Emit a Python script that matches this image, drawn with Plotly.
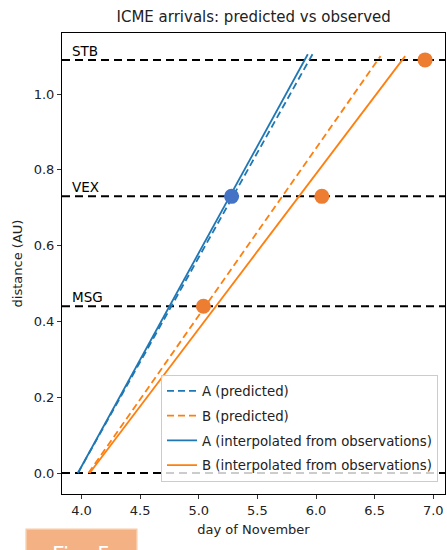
import plotly.graph_objects as go

# ---- data ----
planet_names = ["MSG", "VEX", "STB"]
planet_dist = [0.44, 0.73, 1.09]
baseline = [0.0]

a_pred_day = [3.97, 5.97]
a_pred_dist = [0.0, 1.105]
b_pred_day = [4.06, 6.55]
b_pred_dist = [0.0, 1.10]
a_obs_line_day = [3.97, 5.93]
a_obs_line_dist = [0.0, 1.105]
b_obs_line_day = [4.07, 6.76]
b_obs_line_dist = [0.0, 1.10]

a_obs_day = [5.28]
a_obs_dist = [0.73]
b_obs_day = [5.04, 6.05, 6.93]
b_obs_dist = [0.44, 0.73, 1.09]

x_ticks = [4.0, 4.5, 5.0, 5.5, 6.0, 6.5, 7.0]
y_ticks = [0.0, 0.2, 0.4, 0.6, 0.8, 1.0]

BLUE = "#1f77b4"
ORANGE = "#ff7f0e"
FONT = "DejaVu Sans"

fig = go.Figure()

traces = [
    ("A (predicted)", a_pred_day, a_pred_dist, BLUE, "7px,4px"),
    ("B (predicted)", b_pred_day, b_pred_dist, ORANGE, "7px,4px"),
    ("A (interpolated from observations)", a_obs_line_day, a_obs_line_dist, BLUE, "solid"),
    ("B (interpolated from observations)", b_obs_line_day, b_obs_line_dist, ORANGE, "solid"),
]
for i, (name, xs, ys, col, dash) in enumerate(traces):
    fig.add_trace(go.Scatter(x=xs, y=ys, mode="lines", name=name,
                             legendgroup=f"g{i}",
                             line=dict(color=col, width=1.8, dash=dash)))

fig.add_trace(go.Scatter(x=a_obs_day, y=a_obs_dist, mode="markers", showlegend=False,
                         marker=dict(color="#4472C4", size=15, line=dict(width=0))))
fig.add_trace(go.Scatter(x=b_obs_day, y=b_obs_dist, mode="markers", showlegend=False,
                         marker=dict(color="#ED7D31", size=15, line=dict(width=0))))

# horizontal reference lines
for d in planet_dist + baseline:
    fig.add_shape(type="line", xref="paper", x0=0, x1=1, yref="y", y0=d, y1=d,
                  line=dict(color="black", width=2, dash="8px,5px"), layer="below")
for name, d in zip(planet_names, planet_dist):
    fig.add_annotation(x=3.905, y=d, xref="x", yref="y", text=name, showarrow=False,
                       xanchor="left", yanchor="bottom", yshift=-1,
                       font=dict(family=FONT, size=13.5, color="black"))

# "Fig. 5" badge at bottom-left
L, R, T, B = 62.3, 445, 33.3, 494.3
pw, ph = R - L, B - T
def px(x):
    return (x - L) / pw
def py(y):
    return (B - y) / ph
fig.add_shape(type="rect", xref="paper", yref="paper",
              x0=px(26.5), x1=px(137), y0=py(529.5), y1=py(565),
              fillcolor="#F4B183", line=dict(color="#F8C9A5", width=1.5))
fig.add_annotation(xref="paper", yref="paper", x=px(82), y=py(540), text="Fig. 5",
                   showarrow=False, xanchor="center", yanchor="top",
                   font=dict(family=FONT, size=22, color="white"))

fig.update_layout(
    width=447, height=550,
    margin=dict(l=L, r=447 - R, t=T, b=550 - B, pad=0),
    paper_bgcolor="white", plot_bgcolor="white",
    font=dict(family=FONT, size=13, color="#222"),
    title=dict(text="ICME arrivals: predicted vs observed", x=(L + R) / 2 / 447,
               xanchor="center", y=1 - 17 / 550, yanchor="middle",
               font=dict(family=FONT, size=15, color="#222")),
    showlegend=True,
    legend=dict(x=px(438), y=py(482), xanchor="right", yanchor="bottom",
                bgcolor="rgba(255,255,255,0.8)", bordercolor="#cccccc", borderwidth=1,
                font=dict(family=FONT, size=13.3, color="#222"),
                tracegroupgap=4.5, traceorder="grouped"),
)
fig.update_xaxes(range=[3.834, 7.0998], tickvals=x_ticks, tickformat=".1f",
                 showgrid=False, zeroline=False, showline=True, mirror=True,
                 linecolor="black", linewidth=1, ticks="outside", ticklen=4,
                 tickcolor="#333", tickfont=dict(family=FONT, size=13, color="#222"),
                 title=dict(text="day of November", standoff=8,
                            font=dict(family=FONT, size=13, color="#222")))
fig.update_yaxes(range=[-0.0554, 1.161], tickvals=y_ticks, tickformat=".1f",
                 showgrid=False, zeroline=False, showline=True, mirror=True,
                 linecolor="black", linewidth=1, ticks="outside", ticklen=4,
                 tickcolor="#333", tickfont=dict(family=FONT, size=13, color="#222"),
                 title=dict(text="distance (AU)", standoff=8,
                            font=dict(family=FONT, size=13, color="#222")))

fig.write_html("out.html")
